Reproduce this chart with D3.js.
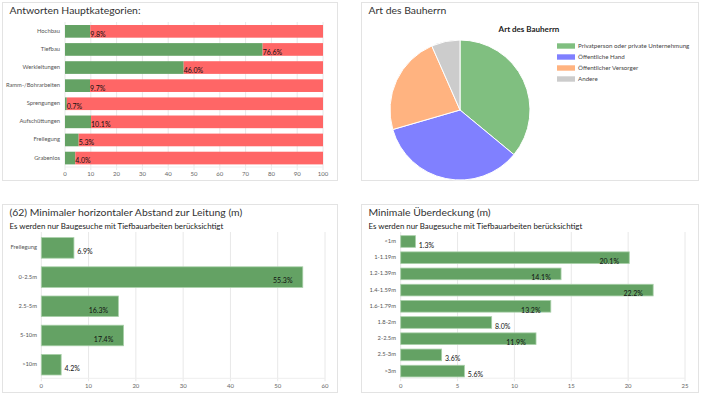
<!DOCTYPE html>
<html>
<head>
<meta charset="utf-8">
<script src="https://cdn.jsdelivr.net/npm/d3@7"></script>
<style>
  body { margin: 0; background: #fff; }
  svg text { font-family: "Segoe UI", Lato, sans-serif; }
</style>
</head>
<body>
<div class="canvas"></div>
<script>
const width = 701;
const height = 395;

// Antworten Hauptkategorien
const mainCategories = ["Hochbau", "Tiefbau", "Werkleitungen", "Ramm-/Bohrarbeiten", "Sprengungen", "Aufschüttungen", "Freilegung", "Grabenlos"];
const mainYes = [9.8, 76.6, 46.0, 9.7, 0.7, 10.1, 5.3, 4.0];
const mainNo = [90.2, 23.4, 54.0, 90.3, 99.3, 89.9, 94.7, 96.0];
const mainTicks = [0, 10, 20, 30, 40, 50, 60, 70, 80, 90, 100];

// Art des Bauherrn
const ownerLabels = ["Privatperson oder private Unternehmung", "Öffentliche Hand", "Öffentlicher Versorger", "Andere"];
const ownerValues = [36.0, 34.5, 22.9, 6.6];

// Minimaler horizontaler Abstand
const distCategories = ["Freilegung", "0-2.5m", "2.5-5m", "5-10m", ">10m"];
const distValues = [6.9, 55.3, 16.3, 17.4, 4.2];
const distTicks = [0, 10, 20, 30, 40, 50, 60];

// Minimale Überdeckung
const coverCategories = ["<1m", "1-1.19m", "1.2-1.39m", "1.4-1.59m", "1.6-1.79m", "1.8-2m", "2-2.5m", "2.5-3m", ">3m"];
const coverValues = [1.3, 20.1, 14.1, 22.2, 13.2, 8.0, 11.9, 3.6, 5.6];
const coverTicks = [0, 5, 10, 15, 20, 25];

const green = "#64a264";
const red = "#ff6666";

const svg = d3.select(".canvas")
    .append("svg")
    .attr("width", width)
    .attr("height", height)

// panel frames
const panels = [
    {x: 2.5, y: 2.5, w: 335, h: 178, title: "Antworten Hauptkategorien:"},
    {x: 361.5, y: 2.5, w: 337, h: 178, title: "Art des Bauherrn"},
    {x: 2.5, y: 204.5, w: 335, h: 188, title: "(62) Minimaler horizontaler Abstand zur Leitung (m)"},
    {x: 361.5, y: 204.5, w: 337, h: 188, title: "Minimale Überdeckung (m)"}
]
panels.forEach(p => {
    svg.append("rect")
        .attr("x", p.x).attr("y", p.y)
        .attr("width", p.w).attr("height", p.h)
        .attr("fill", "#fff")
        .attr("stroke", "#e3e3e3")
    svg.append("text")
        .attr("x", p.x + 7)
        .attr("y", p.y + 11.5)
        .attr("font-size", 10.4)
        .attr("fill", "#333")
        .text(p.title)
})

const subtitle = "Es werden nur Baugesuche mit Tiefbauarbeiten berücksichtigt";
[9.5, 368.5].forEach(x => {
    svg.append("text")
        .attr("x", x).attr("y", 229)
        .attr("font-size", 7.9)
        .attr("fill", "#222")
        .text(subtitle)
})

// shared axis + grid drawing
function drawGrid(g, x, ticks, top, bottom, labelY) {
    g.selectAll(".grid")
        .data(ticks)
        .enter()
        .append("line")
        .attr("x1", d => x(d)).attr("x2", d => x(d))
        .attr("y1", top).attr("y2", bottom + 3)
        .attr("stroke", "#e8e8e8")
    g.append("line")
        .attr("x1", x.range()[0]).attr("x2", x.range()[1])
        .attr("y1", bottom).attr("y2", bottom)
        .attr("stroke", "#eeeeee")
    g.selectAll(".tick-label")
        .data(ticks)
        .enter()
        .append("text")
        .attr("x", d => x(d))
        .attr("y", labelY)
        .attr("text-anchor", "middle")
        .attr("dominant-baseline", "middle")
        .attr("font-size", 6)
        .attr("fill", "#666")
        .text(d => d)
}

function drawCategoryLabels(g, y, cats, xRight) {
    g.selectAll(".cat")
        .data(cats)
        .enter()
        .append("text")
        .attr("x", xRight)
        .attr("y", d => y(d) + y.bandwidth() / 2)
        .attr("text-anchor", "end")
        .attr("dominant-baseline", "middle")
        .attr("font-size", 5.8)
        .attr("fill", "#555")
        .text(d => d)
}

// ---- chart 1: stacked yes/no ----
{
    const g = svg.append("g")
    const x = d3.scaleLinear().domain([0, 100]).range([65, 323])
    const y = d3.scaleBand().domain(mainCategories).range([22.3, 167.1])
                .paddingInner(0.3).paddingOuter(0.15)
    drawGrid(g, x, mainTicks, 22, 167, 174)
    drawCategoryLabels(g, y, mainCategories, 60)
    const rows = mainCategories.map((c, i) => ({c, yes: mainYes[i], no: mainNo[i]}))
    g.selectAll(".yes").data(rows).enter().append("rect")
        .attr("x", x(0))
        .attr("y", d => y(d.c))
        .attr("width", d => x(d.yes) - x(0))
        .attr("height", y.bandwidth())
        .attr("fill", green)
    g.selectAll(".no").data(rows).enter().append("rect")
        .attr("x", d => x(d.yes))
        .attr("y", d => y(d.c))
        .attr("width", d => x(d.yes + d.no) - x(d.yes))
        .attr("height", y.bandwidth())
        .attr("fill", red)
    g.selectAll(".lbl").data(rows).enter().append("text")
        .attr("x", d => x(d.yes))
        .attr("y", d => y(d.c) + y.bandwidth() / 2 + 3.5)
        .attr("dominant-baseline", "middle")
        .attr("font-size", 7)
        .attr("fill", "#111")
        .text(d => d.yes.toFixed(1) + "%")
}

// ---- chart 2: pie ----
{
    const g = svg.append("g").attr("transform", "translate(460, 110)")
    const color = d3.scaleOrdinal().domain(ownerLabels).range(["#80bf80", "#8080ff", "#ffb380", "#cccccc"])
    const pie = d3.pie().sort(null).value(d => d.v)
    const arc = d3.arc().innerRadius(0).outerRadius(70)
    const data = ownerLabels.map((l, i) => ({l, v: ownerValues[i]}))
    g.selectAll("path").data(pie(data)).enter().append("path")
        .attr("d", arc)
        .attr("fill", d => color(d.data.l))
        .attr("stroke", "#fff")
        .attr("stroke-width", 1)
    svg.append("text")
        .attr("x", 529).attr("y", 32)
        .attr("text-anchor", "middle")
        .attr("font-size", 8)
        .attr("font-weight", "bold")
        .attr("fill", "#222")
        .text("Art des Bauherrn")
    const legend = svg.append("g")
    const ly = d3.scalePoint().domain(ownerLabels).range([46, 79])
    legend.selectAll("rect").data(ownerLabels).enter().append("rect")
        .attr("x", 557).attr("y", d => ly(d) - 2.7)
        .attr("width", 18).attr("height", 5.4)
        .attr("fill", d => color(d))
    legend.selectAll("text").data(ownerLabels).enter().append("text")
        .attr("x", 578).attr("y", d => ly(d))
        .attr("dominant-baseline", "middle")
        .attr("font-size", 6.2)
        .attr("fill", "#444")
        .text(d => d)
}

// ---- simple horizontal bar chart ----
function barChart(cats, vals, ticks, xRange, yRange, padIn, labelRight) {
    const g = svg.append("g")
    const x = d3.scaleLinear().domain([0, ticks[ticks.length - 1]]).range(xRange)
    const y = d3.scaleBand().domain(cats).range(yRange)
                .paddingInner(padIn).paddingOuter(padIn / 2)
    drawGrid(g, x, ticks, 232, yRange[1] - 1, 386.5)
    drawCategoryLabels(g, y, cats, labelRight)
    const rows = cats.map((c, i) => ({c, v: vals[i]}))
    g.selectAll(".bar").data(rows).enter().append("rect")
        .attr("x", x(0))
        .attr("y", d => y(d.c))
        .attr("width", d => x(d.v) - x(0))
        .attr("height", y.bandwidth())
        .attr("fill", green)
        .attr("stroke", "#a9d0a9")
        .attr("stroke-width", 0.8)
    g.selectAll(".lbl").data(rows).enter().append("text")
        .attr("x", d => d.v >= 10 ? x(d.v) - 20 : x(d.v) + 11)
        .attr("y", d => y(d.c) + y.bandwidth() / 2 + 4.5)
        .attr("text-anchor", "middle")
        .attr("dominant-baseline", "middle")
        .attr("font-size", 7)
        .attr("fill", "#111")
        .text(d => d.v.toFixed(1) + "%")
}

barChart(distCategories, distValues, distTicks, [41.3, 325], [233.3, 379.3], 0.295, 37)
barChart(coverCategories, coverValues, coverTicks, [400.7, 685], [233.4, 379.2], 0.28, 396)
</script>
</body>
</html>
